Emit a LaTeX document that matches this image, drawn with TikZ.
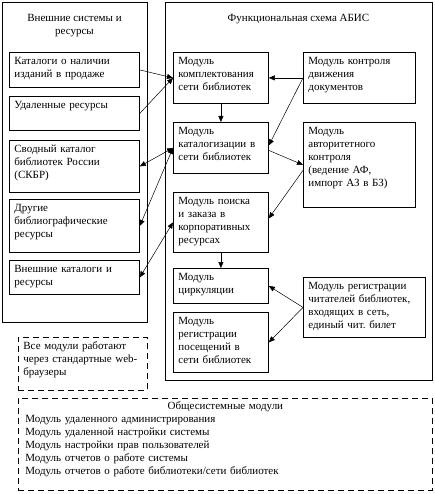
\documentclass[tikz,border=0pt]{standalone}
\usepackage{fontspec}
\setmainfont{Liberation Serif}
\usetikzlibrary{arrows.meta}
\frenchspacing

\begin{document}
\begin{tikzpicture}[x=1pt,y=-1pt,font=\fontsize{11}{13}\selectfont,
  box/.style={draw,line width=0.8pt,anchor=north west,align=left,inner xsep=5pt,inner ysep=4pt,text height=8.5pt},
  dbox/.style={box,dash pattern=on 6pt off 4pt},
  link/.style={-{Triangle[length=6pt,width=5pt]},line width=0.5pt},
  both/.style={{Triangle[length=6pt,width=5pt]}-{Triangle[length=6pt,width=5pt]},line width=0.5pt}]

\useasboundingbox (0,0) rectangle (434,494);

% outer frames
\draw [line width=0.8pt] (2,2) rectangle (147,322);
\draw [line width=0.8pt] (165,2) rectangle (432,380);
\node (extTitle) at (74.5,26) [align=center] {Внешние системы и\\ресурсы};
\node (absTitle) at (298.5,19) {Функциональная схема АБИС};

% external systems
\node (ext1) at (9,52) [box,text width=120pt,text depth=18.5pt] {Каталоги о наличии\\изданий в продаже};
\node (ext2) at (9,96) [box,text width=120pt,text depth=17.5pt] {Удаленные ресурсы};
\node (ext3) at (9,140) [box,text width=120pt,text depth=35.5pt] {Сводный каталог\\библиотек России\\(СКБР)};
\node (ext4) at (9,199) [box,text width=120pt,text depth=36.5pt] {Другие\\библиографические\\ресурсы};
\node (ext5) at (9,260) [box,text width=120pt,text depth=17.5pt] {Внешние каталоги и\\ресурсы};

% modules, middle column
\node (mKompl) at (173,52) [box,text width=85pt,text depth=34.5pt] {Модуль\\комплектования\\сети библиотек};
\node (mKatal) at (173,122) [box,text width=85pt,text depth=34.5pt] {Модуль\\каталогизации в\\сети библиотек};
\node (mPoisk) at (173,192) [box,text width=85pt,text depth=43.5pt] {Модуль поиска\\и заказа в\\корпоративных\\ресурсах};
\node (mCirc) at (173,268) [box,text width=85pt,text depth=18.5pt] {Модуль\\циркуляции};
\node (mReg) at (173,312) [box,text width=85pt,text depth=43.5pt] {Модуль\\регистрации\\посещений в\\сети библиотек};

% modules, right column
\node (mKontr) at (303,52) [box,text width=102pt,text depth=34.5pt] {Модуль контроля\\движения\\документов};
\node (mAvt) at (303,122) [box,text width=102pt,text depth=68.5pt] {Модуль\\авторитетного\\контроля\\(ведение АФ,\\импорт АЗ в БЗ)};
\node (mChit) at (303,277) [box,text width=112pt,text depth=43.5pt] {Модуль регистрации\\читателей библиотек,\\входящих в сеть,\\единый чит. билет};

% notes
\node (web) at (18,337) [dbox,text width=119pt,text depth=36.5pt] {Все модули работают\\через стандартные web-\\браузеры};
\node (common) at (18,398) [dbox,inner xsep=7pt,inner ysep=3pt,text width=400pt,text depth=77.5pt] {\hspace*{\fill}Общесистемные модули\hspace*{\fill}\null\\Модуль удаленного администрирования\\Модуль удаленной настройки системы\\Модуль настройки прав пользователей\\Модуль отчетов о работе системы\\Модуль отчетов о работе библиотеки/сети библиотек};

% links to external systems
\draw [link] (ext1.east) -- (mKompl.west);
\draw [link] (ext2.east) -- (mKompl.west);
\draw [both] (ext3.east) -- (mKatal.west);
\draw [both] (ext4.east) -- (mKatal.west);
\draw [both] (ext5.east) -- (mPoisk.west);

% links between modules
\draw [link] (mKompl.south) -- (mKatal.north);
\draw [link] (mPoisk.south) -- (mCirc.north);
\draw [link] (mKontr.west) -- (mKompl.east);
\draw [link] (mKontr.west) -- ([yshift=2.5pt]mKatal.east);
\draw [link] ([yshift=-2.5pt]mKatal.east) -- (mAvt.west);
\draw [link] ([yshift=-5.5pt]mAvt.west) -- ([yshift=4pt]mPoisk.east);
\draw [link] (mChit.west) -- (mCirc.east);
\draw [link] (mChit.west) -- (mReg.east);

\end{tikzpicture}
\end{document}
